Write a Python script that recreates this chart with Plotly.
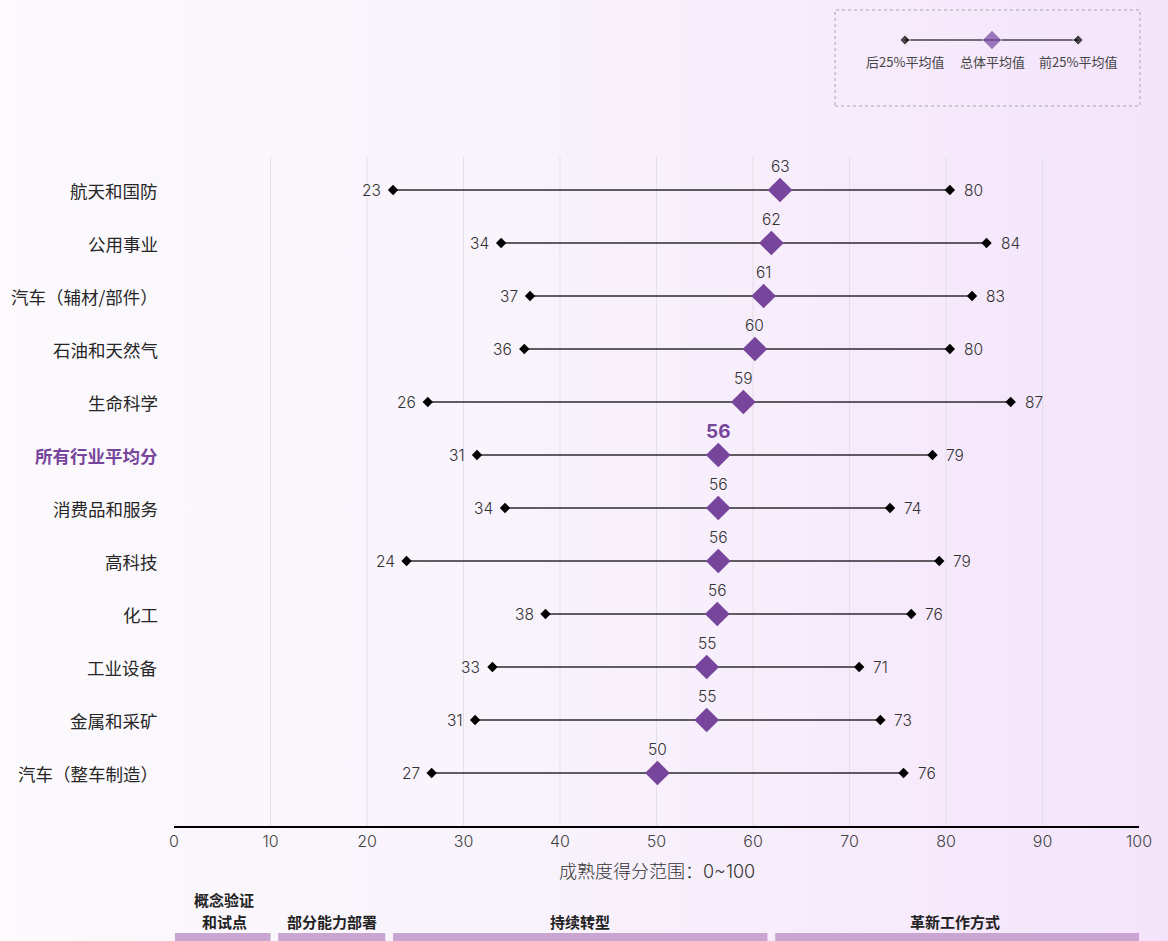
import base64
import plotly.graph_objects as go

# ---------------- data ----------------
industries = ["航天和国防", "公用事业", "汽车（辅材/部件）", "石油和天然气", "生命科学",
              "所有行业平均分", "消费品和服务", "高科技", "化工", "工业设备", "金属和采矿",
              "汽车（整车制造）"]
bottom25 = [22.7, 33.9, 36.9, 36.3, 26.3, 31.4, 34.3, 24.1, 38.5, 33.0, 31.2, 26.7]
overall = [62.8, 61.9, 61.1, 60.2, 59.0, 56.4, 56.4, 56.4, 56.3, 55.2, 55.2, 50.1]
top25 = [80.4, 84.2, 82.7, 80.4, 86.7, 78.6, 74.2, 79.3, 76.4, 71.0, 73.2, 75.6]
highlight = "所有行业平均分"

x_ticks = [0, 10, 20, 30, 40, 50, 60, 70, 80, 90, 100]
x_title = "成熟度得分范围：0~100"

stage_lines = [["概念验证", "和试点"], ["部分能力部署"], ["持续转型"], ["革新工作方式"]]
stage_bounds = [0, 10.4, 22.3, 61.9, 100]

legend_labels = ["后25%平均值", "总体平均值", "前25%平均值"]

# ---------------- style ----------------
W, H = 1168, 941
PURPLE = "#77469c"
FONT = "Inter, 'Noto Sans CJK SC', sans-serif"
CJK = "'Noto Sans CJK SC', sans-serif"
X0, X1 = 174, 1139         # plot area px
Y0, Y1 = 157, 826

def px(x):
    return x / W

def py(y):
    return 1 - y / H

svg = f"""<svg xmlns='http://www.w3.org/2000/svg' width='{W}' height='{H}' preserveAspectRatio='none'>
<defs><linearGradient id='g' x1='0' y1='0' x2='1' y2='0'>
<stop offset='0' stop-color='#fcfafd'/><stop offset='0.45' stop-color='#f9f3fc'/>
<stop offset='1' stop-color='#f4e4fb'/></linearGradient></defs>
<rect width='{W}' height='{H}' fill='url(#g)'/></svg>"""
bg_uri = "data:image/svg+xml;base64," + base64.b64encode(svg.encode()).decode()

ys = list(range(len(industries)))
fig = go.Figure()

# connecting lines
for i in ys:
    fig.add_trace(go.Scatter(x=[bottom25[i], top25[i]], y=[i, i], mode="lines",
                             line=dict(color="#2e2a30", width=1.4),
                             hoverinfo="skip", showlegend=False))

fig.add_trace(go.Scatter(x=bottom25, y=ys, mode="markers",
                         marker=dict(symbol="diamond", size=8, color="black"),
                         showlegend=False))
fig.add_trace(go.Scatter(x=top25, y=ys, mode="markers",
                         marker=dict(symbol="diamond", size=8, color="black"),
                         showlegend=False))
fig.add_trace(go.Scatter(x=overall, y=ys, mode="markers",
                         marker=dict(symbol="diamond", size=19, color=PURPLE),
                         showlegend=False))

num_font = dict(family=FONT, size=15.5, color="#333", weight=300)

annotations = []
for i, name in enumerate(industries):
    hl = name == highlight
    annotations.append(dict(
        x=px(160), y=i, xref="paper", yref="y", xanchor="right", yanchor="middle",
        text=f"<b>{name}</b>" if hl else name, showarrow=False,
        font=dict(family=CJK, size=17.5, color=PURPLE if hl else "#262626")))
    annotations.append(dict(
        x=bottom25[i], y=i, xref="x", yref="y", xanchor="right", yanchor="middle",
        xshift=-10, text=f"{round(bottom25[i])}", showarrow=False, font=num_font))
    annotations.append(dict(
        x=top25[i], y=i, xref="x", yref="y", xanchor="left", yanchor="middle",
        xshift=12, text=f"{round(top25[i])}", showarrow=False, font=num_font))
    annotations.append(dict(
        x=overall[i], y=i, xref="x", yref="y", xanchor="center", yanchor="middle",
        yshift=24, text=f"{round(overall[i])}", showarrow=False,
        font=dict(family=FONT, size=19, color=PURPLE, weight=700) if hl else num_font))

# axis title
annotations.append(dict(x=50, y=py(871), xref="x", yref="paper", text=x_title,
                        showarrow=False, xanchor="center", yanchor="middle",
                        font=dict(family=FONT, size=18, color="#333", weight=300)))

shapes = []
# vertical gridlines
for t in x_ticks[1:]:
    shapes.append(dict(type="line", xref="x", yref="paper", x0=t, x1=t,
                       y0=py(Y1), y1=py(Y0), line=dict(color="#e3dee7", width=1),
                       layer="below"))

# stage bars and labels
for k, lines in enumerate(stage_lines):
    a, b = stage_bounds[k], stage_bounds[k + 1]
    shapes.append(dict(type="rect", xref="x", yref="paper",
                       x0=a + (0.1 if k == 0 else 0.4), x1=b - (0 if k == 3 else 0.4),
                       y0=0, y1=py(933), fillcolor="#c8a6d1", line=dict(width=0)))
    n = len(lines)
    for j, line in enumerate(lines):
        yc = 921 - 22 * (n - 1 - j)
        annotations.append(dict(x=(a + b) / 2, y=py(yc), xref="x", yref="paper",
                                text=f"<b>{line}</b>", showarrow=False,
                                xanchor="center", yanchor="middle", borderpad=0,
                                font=dict(family=CJK, size=15, color="#222")))

# legend box
shapes.append(dict(type="rect", xref="paper", yref="paper", x0=px(835), x1=px(1140),
                   y0=py(106), y1=py(10), line=dict(color="#a9a3ad", width=1, dash="dot"),
                   fillcolor="rgba(0,0,0,0)"))
leg_x = [0.2295, 0.5148, 0.797]
fig.add_trace(go.Scatter(x=[leg_x[0], leg_x[2]], y=[0.6875, 0.6875], mode="lines",
                         line=dict(color="#4a4050", width=1.6), xaxis="x2", yaxis="y2",
                         showlegend=False, hoverinfo="skip"))
fig.add_trace(go.Scatter(x=leg_x, y=[0.6875] * 3, mode="markers",
                         marker=dict(symbol="diamond", size=[8, 15, 8],
                                     color=["black", PURPLE, "black"]),
                         xaxis="x2", yaxis="y2", showlegend=False, hoverinfo="skip"))
for lx, lab in zip(leg_x, legend_labels):
    annotations.append(dict(x=lx, y=py(61), xref="x2", yref="paper", text=lab,
                            showarrow=False, xanchor="center", yanchor="middle",
                            font=dict(family=CJK, size=13, color="#444")))

fig.update_layout(
    template="none",
    width=W, height=H,
    autosize=False,
    margin=dict(l=0, r=0, t=0, b=0, pad=0, autoexpand=False),
    paper_bgcolor="#faf6fc",
    plot_bgcolor="rgba(0,0,0,0)",
    images=[dict(source=bg_uri, xref="paper", yref="paper", x=0, y=1, sizex=1, sizey=1,
                 sizing="stretch", layer="below")],
    xaxis=dict(domain=[px(X0), px(X1)], range=[0, 100], tickvals=x_ticks,
               showgrid=False, zeroline=False, showline=True, linecolor="black",
               linewidth=2, ticks="", ticklabelstandoff=0, automargin=False,
               tickfont=dict(family=FONT, size=16, color="#444", weight=300), anchor="y"),
    yaxis=dict(domain=[py(Y1), py(Y0)], range=[12.0, -0.623], showgrid=False,
               zeroline=False, showticklabels=False, showline=False, automargin=False),
    xaxis2=dict(domain=[px(835), px(1140)], range=[0, 1], visible=False, anchor="y2",
                automargin=False),
    yaxis2=dict(domain=[py(106), py(10)], range=[0, 1], visible=False, anchor="x2",
                automargin=False),
    annotations=annotations,
    shapes=shapes,
    showlegend=False,
    font=dict(family=FONT),
)

fig.write_html("out.html", config={"responsive": False},
               post_script="document.body.style.margin='0';"
                           "document.body.style.overflow='hidden';")
